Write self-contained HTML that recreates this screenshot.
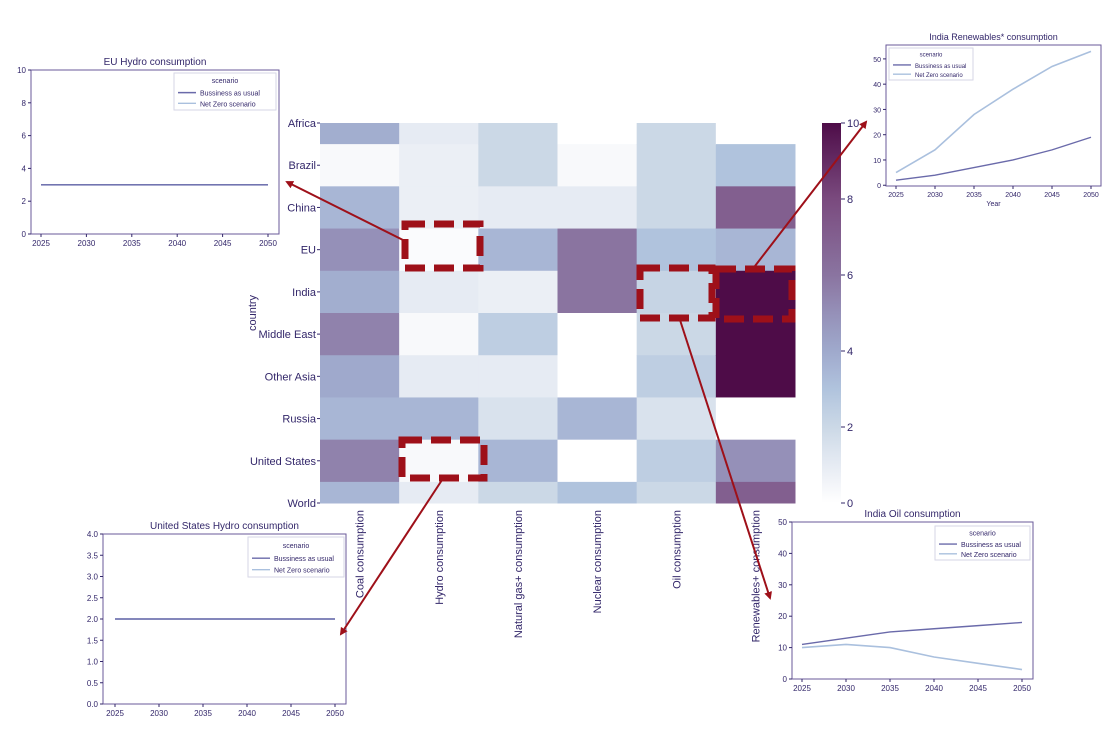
<!DOCTYPE html>
<html><head><meta charset="utf-8"><style>
body{margin:0;background:#fff;width:1116px;height:742px;overflow:hidden}
svg{font-family:"Liberation Sans","DejaVu Sans",sans-serif}
</style></head><body>
<svg id="root" width="1116" height="742" viewBox="0 0 1116 742" xmlns="http://www.w3.org/2000/svg"></svg>
<script>
// ---- Heatmap data ----
const countries = ["Africa","Brazil","China","EU","India","Middle East","Other Asia","Russia","United States","World"];
const fuels = ["Coal consumption","Hydro consumption","Natural gas+ consumption","Nuclear consumption","Oil consumption","Renewables+ consumption"];
const coalVals = [3.8,0.3,3.5,5,3.8,5.5,4,3.5,5.5,3.5];
const hydroVals = [1,0.8,0.8,0.2,1,0.3,1,3.5,0.3,1];
const gasVals = [2,2,1,3.5,0.8,2.5,1,1.5,3.5,2];
const nuclearVals = [0,0.3,1,6,6,0,0,3.5,0,3];
const oilVals = [2,2,2,3,2.2,2,2.5,1.5,2.5,2];
const renewVals = [0,3,7,3.5,10,10,10,0,5,7];
const cbTicks = [0,2,4,6,8,10];

// ---- Inset data ----
const years = [2025,2030,2035,2040,2045,2050];
const euHydroBAU = [3,3,3,3,3,3];
const euHydroNZ = [3,3,3,3,3,3];
const euHydroYTicks = [0,2,4,6,8,10];
const usHydroBAU = [2,2,2,2,2,2];
const usHydroNZ = [2,2,2,2,2,2];
const usHydroYTicks = ["0.0","0.5","1.0","1.5","2.0","2.5","3.0","3.5","4.0"];
const inRenBAU = [2,4,7,10,14,19];
const inRenNZ = [5,14,28,38,47,53];
const inRenYTicks = [0,10,20,30,40,50];
const inOilBAU = [11,13,15,16,17,18];
const inOilNZ = [10,11,10,7,5,3];
const inOilYTicks = [0,10,20,30,40,50];

const NS="http://www.w3.org/2000/svg";
const root=document.getElementById('root');
const TXT="#33276a";
function mk(tag,attrs,parent){const e=document.createElementNS(NS,tag);for(const k in attrs)e.setAttribute(k,attrs[k]);(parent||root).appendChild(e);return e;}

const stops=[[0,[255,255,255]],[1,[230,235,243]],[2,[203,216,230]],[3,[176,195,221]],[4,[159,169,204]],[5,[149,144,184]],[6,[138,116,160]],[8,[122,74,126]],[10,[78,12,72]]];
function cmap(v){for(let i=1;i<stops.length;i++){if(v<=stops[i][0]){const a=stops[i-1],b=stops[i];const t=(v-a[0])/(b[0]-a[0]);const c=a[1].map((x,j)=>Math.round(x+(b[1][j]-x)*t));return `rgb(${c})`;}}return 'rgb(78,12,72)';}

const hx0=320,hx1=795,hy0=123,hy1=503;
const colW=(hx1-hx0)/fuels.length;
const rowStep=(hy1-hy0)/(countries.length-1);
function xCol(i){return hx0+i*colW;}
function yRow(i){return hy0+i*rowStep;}
const allVals=[coalVals,hydroVals,gasVals,nuclearVals,oilVals,renewVals];
const hm=mk('g',{});


allVals.forEach((col,ci)=>{col.forEach((v,ri)=>{
  const top=Math.max(hy0,yRow(ri)-rowStep/2), bot=Math.min(hy1,yRow(ri)+rowStep/2);
  const r=mk('rect',{x:xCol(ci),y:top,width:colW+0.5,height:bot-top+0.5,fill:cmap(v)},hm);
  
  
});});
countries.forEach((c,i)=>{
  const t=mk('text',{x:316,y:yRow(i)+4,'text-anchor':'end','font-size':11,fill:TXT});t.textContent=c;
  
  
  mk('line',{x1:317,x2:320,y1:yRow(i),y2:yRow(i),stroke:TXT});
});
fuels.forEach((f,i)=>{
  const cx=xCol(i)+colW/2;
  const t=mk('text',{x:0,y:0,'text-anchor':'end','font-size':11,fill:TXT,transform:`translate(${cx+4},510) rotate(-90)`});t.textContent=f;
  
  
});
const yt=mk('text',{x:0,y:0,'text-anchor':'middle','font-size':11,fill:TXT,transform:'translate(256,313) rotate(-90)'});yt.textContent='country';



const defs=mk('defs',{});
const lg=mk('linearGradient',{id:'cb',x1:0,y1:1,x2:0,y2:0},defs);
for(let v=0;v<=10;v+=0.5){mk('stop',{offset:v/10,'stop-color':cmap(v)},lg);}
const cb=mk('rect',{x:822,y:hy0,width:19,height:hy1-hy0,fill:'url(#cb)'});


cbTicks.forEach(v=>{const y=hy1-(v/10)*(hy1-hy0);
  mk('line',{x1:841,x2:845,y1:y,y2:y,stroke:TXT});
  const t=mk('text',{x:847,y:y+4,'font-size':11,fill:TXT});t.textContent=v;
  
  
});

function inset(name,title,ax,ymin,ymax,yTicks,bau,nz,xlabel){
  const g=mk('g',{});
  
  
  const X=y=>ax.xa+(y-2025)/25*(ax.xb-ax.xa);
  const Y=v=>ax.y1-(v-ymin)/(ymax-ymin)*(ax.y1-ax.y0);
  mk('rect',{x:ax.x0,y:ax.y0,width:ax.x1-ax.x0,height:ax.y1-ax.y0,fill:'#fff',stroke:'#6a5a9a','stroke-width':1},g);
  const tt=mk('text',{x:(ax.x0+ax.x1)/2,y:ax.y0-5,'text-anchor':'middle','font-size':ax.fs+2,fill:TXT},g);tt.textContent=title;
  yTicks.forEach(v=>{const y=Y(+v);mk('line',{x1:ax.x0-3,x2:ax.x0,y1:y,y2:y,stroke:TXT},g);
    const t=mk('text',{x:ax.x0-5,y:y+3,'text-anchor':'end','font-size':ax.fs,fill:TXT},g);t.textContent=v;});
  years.forEach(yr=>{const x=X(yr);mk('line',{x1:x,x2:x,y1:ax.y1,y2:ax.y1+3,stroke:TXT},g);
    const t=mk('text',{x:x,y:ax.y1+ax.fs+4,'text-anchor':'middle','font-size':ax.fs,fill:TXT},g);t.textContent=yr;});
  if(xlabel){const t=mk('text',{x:(ax.x0+ax.x1)/2,y:ax.y1+2*ax.fs+6,'text-anchor':'middle','font-size':ax.fs,fill:TXT},g);t.textContent=xlabel;}
  const pts=a=>a.map((v,i)=>X(years[i])+','+Y(v)).join(' ');
  const l1=mk('polyline',{points:pts(nz),fill:'none',stroke:'#aac0de','stroke-width':1.6},g);
  
  
  const l2=mk('polyline',{points:pts(bau),fill:'none',stroke:'#6a6aaa','stroke-width':1.4},g);
  
  
  const L=ax.leg;
  const lgd=mk('g',{},g);
  
  
  mk('rect',{x:L.x,y:L.y,width:L.w,height:L.h,fill:'#fff',stroke:'#d6d6e6'},lgd);
  const s=L.h/3.3;
  let t=mk('text',{x:L.x+L.w/2,y:L.y+s*0.9,'text-anchor':'middle','font-size':ax.fs-1,fill:TXT},lgd);t.textContent='scenario';
  mk('line',{x1:L.x+4,x2:L.x+22,y1:L.y+s*1.75,y2:L.y+s*1.75,stroke:'#6a6aaa','stroke-width':1.4},lgd);
  t=mk('text',{x:L.x+26,y:L.y+s*1.75+3,'font-size':ax.fs-1,fill:TXT},lgd);t.textContent='Bussiness as usual';
  mk('line',{x1:L.x+4,x2:L.x+22,y1:L.y+s*2.7,y2:L.y+s*2.7,stroke:'#aac0de','stroke-width':1.4},lgd);
  t=mk('text',{x:L.x+26,y:L.y+s*2.7+3,'font-size':ax.fs-1,fill:TXT},lgd);t.textContent='Net Zero scenario';
}
inset('eu-hydro-inset','EU Hydro consumption',{x0:31,x1:279,y0:70,y1:234,xa:41,xb:268,fs:8,leg:{x:174,y:73,w:102,h:37}},0,10,euHydroYTicks,euHydroBAU,euHydroNZ);
inset('india-renewables-inset','India Renewables* consumption',{x0:886,x1:1101,y0:45,y1:186,xa:896,xb:1091,fs:7,leg:{x:889,y:48,w:84,h:32}},-0.3,55.5,inRenYTicks,inRenBAU,inRenNZ,'Year');
inset('us-hydro-inset','United States Hydro consumption',{x0:103,x1:346,y0:534,y1:704,xa:115,xb:335,fs:8,leg:{x:248,y:537,w:96,h:40}},0,4,usHydroYTicks,usHydroBAU,usHydroNZ);
inset('india-oil-inset','India Oil consumption',{x0:792,x1:1033,y0:522,y1:679,xa:802,xb:1022,fs:8,leg:{x:935,y:526,w:95,h:34}},0,50,inOilYTicks,inOilBAU,inOilNZ);

const RED='#9e1019';
const ann=mk('g',{});


mk('marker',{id:'ah',markerWidth:8,markerHeight:8,refX:6,refY:4,orient:'auto',markerUnits:'userSpaceOnUse'},defs);
mk('path',{d:'M0,0 L8,4 L0,8 Z',fill:RED},defs.lastChild);
[[403,240,287,182],[442,480,341,634],[680,320,770,598],[755,266,866,122]].forEach(a=>{
  mk('line',{x1:a[0],y1:a[1],x2:a[2],y2:a[3],stroke:RED,'stroke-width':2,'marker-end':'url(#ah)'},ann);
});
[[405,224,75,44],[402,440,82,38],[640,268,72,50],[716,269,76,50]].forEach(b=>{
  mk('rect',{x:b[0],y:b[1],width:b[2],height:b[3],fill:'none',stroke:RED,'stroke-width':7,'stroke-dasharray':'20 9'},ann);
});
</script>
</body></html>
